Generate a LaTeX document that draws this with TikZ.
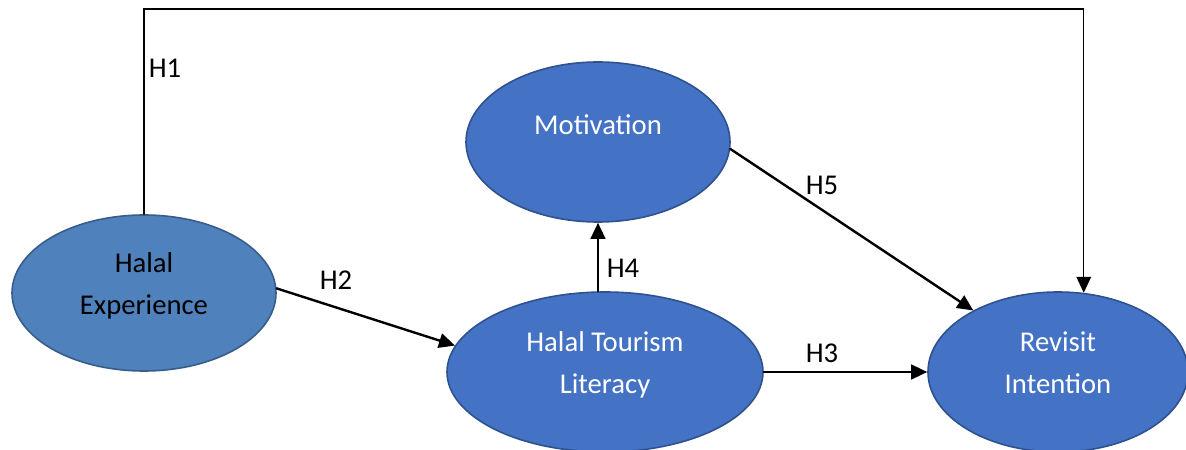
\documentclass[tikz,border=0pt]{standalone}
\usepackage{fontspec}
\setmainfont{Carlito}
\usepackage{tikz}
\usetikzlibrary{calc}
\usetikzlibrary{arrows.meta}
\usetikzlibrary{shapes.geometric}
\definecolor{ttiect}{rgb}{0.267,0.447,0.769}
\definecolor{efzeof}{rgb}{0.184,0.322,0.561}
\definecolor{tfowbd}{rgb}{0.31,0.506,0.741}
\definecolor{rozdoa}{rgb}{0.22,0.365,0.541}
\tikzstyle{every node}=[font=\fontsize{21.5}{31.5}\selectfont]
\tikzstyle{construct}=[ellipse,draw=efzeof,fill=ttiect,line width=1.2pt,inner sep=0pt,text=white,align=center,text depth=14pt]
\tikzstyle{hyp}=[inner sep=0pt]

\begin{document}
\begin{tikzpicture}[line cap=round,line join=miter,>={Triangle[length=12pt,width=11pt]},x=0.75pt,y=0.75pt]
                    \useasboundingbox (0,0) rectangle (1186,450);
                    \clip(0,0) rectangle (1186,450);
                    \node [construct,draw=rozdoa,fill=tfowbd,text=black,minimum width=198pt,minimum height=117pt] (exp) at (144,157) {Halal\\Experience};
                    \node [construct,minimum width=198pt,minimum height=120pt,text height=15pt,text depth=25.5pt] (mot) at (598,308) {Motivation};
                    \node [construct,minimum width=237pt,minimum height=120pt] (lit) at (605,78) {Halal Tourism\\Literacy};
                    \node [construct,minimum width=195pt,minimum height=120pt] (rev) at (1058,78) {Revisit\\Intention};
                    \coordinate (top) at (144,441);
                    % direct path H1
                    \draw [->,line width=1pt] (exp.north) -- (exp.north |- top) -| (rev.72);
                    \draw [->,line width=1.8pt] (exp.2) -- (lit.170);
                    \draw [->,line width=1.8pt] (lit.east) -- (rev.west);
                    \draw [->,line width=1.8pt] (mot.south |- lit.north) -- (mot.south);
                    \draw [->,line width=1.8pt] (mot.-3) -- (rev.144);
                    \node [hyp] (h1) at (165,382) {H1};
                    \node [hyp] (h2) at (336,170) {H2};
                    \node [hyp] (h3) at (822,97) {H3};
                    \node [hyp] (h4) at (623,182) {H4};
                    \node [hyp] (h5) at (822,265) {H5};
                    \end{tikzpicture}
\end{document}
